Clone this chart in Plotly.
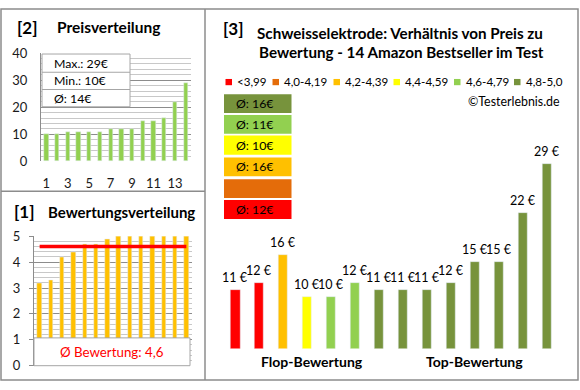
import plotly.graph_objects as go

# ---------------- data ----------------
products = list(range(1, 15))
prices_sorted = [10, 10, 11, 11, 11, 11, 12, 12, 12, 15, 15, 16, 22, 29]
ratings_sorted = [3.2, 3.3, 4.2, 4.4, 4.7, 4.7, 4.9, 5.0, 5.0, 5.0, 5.0, 5.0, 5.0, 5.0]
prices_by_rating = [11, 12, 16, 10, 10, 12, 11, 11, 11, 12, 15, 15, 22, 29]
ratings_by_rating = [3.2, 3.3, 4.2, 4.4, 4.7, 4.7, 4.9, 5.0, 5.0, 5.0, 5.0, 5.0, 5.0, 5.0]
price_ticks = [1, 3, 5, 7, 9, 11, 13]
class_labels = ["<3,99", "4,0-4,19", "4,2-4,39", "4,4-4,59", "4,6-4,79", "4,8-5,0"]
class_bounds = [(0, 3.995), (4.0, 4.195), (4.2, 4.395), (4.4, 4.595), (4.6, 4.795), (4.8, 5.01)]
class_colors = ["#ff0000", "#e46c0a", "#ffc000", "#ffff00", "#92d050", "#77933c"]

W, H = 580, 390
FONT = "Lato"
GRAY = "#8c8c8c"


def px(x):
    return x / W


def py(y):
    return 1 - y / H


def cls_color(r):
    for (lo, hi), c in zip(class_bounds, class_colors):
        if lo <= r < hi:
            return c
    return class_colors[-1]


fig = go.Figure()

# [2] Preisverteilung
fig.add_trace(go.Bar(x=products, y=prices_sorted, marker_color="#92d050", width=0.4,
                     xaxis="x", yaxis="y", showlegend=False))

# [1] Bewertungsverteilung
fig.add_trace(go.Bar(x=products, y=ratings_sorted, marker_color="#ffc000", width=0.4,
                     xaxis="x2", yaxis="y2", showlegend=False))
avg_rating = round(sum(ratings_sorted) / len(ratings_sorted), 1)
fig.add_trace(go.Scatter(x=[products[0], products[-1]], y=[avg_rating, avg_rating], mode="lines",
                         line=dict(color="#ff0000", width=3.5), xaxis="x2", yaxis="y2",
                         showlegend=False))

# [3] price vs rating
fig.add_trace(go.Bar(x=products, y=prices_by_rating,
                     marker_color=[cls_color(r) for r in ratings_by_rating], width=0.38,
                     xaxis="x3", yaxis="y3", showlegend=False))

ann = []
shapes = []


def label(x, y, text, size=13, color="#000", xanchor="center", bold=False):
    ann.append(dict(x=px(x), y=py(y), xref="paper", yref="paper",
                    text=f"<b>{text}</b>" if bold else text, showarrow=False,
                    xanchor=xanchor, yanchor="middle",
                    font=dict(family=FONT, size=size, color=color)))


# bar value labels
for xi, p in zip(products, prices_by_rating):
    ann.append(dict(x=xi, y=p, xref="x3", yref="y3", text=f"{p} €", showarrow=False,
                    xanchor="center", yanchor="bottom", yshift=3,
                    font=dict(family=FONT, size=12.5, color="#000")))

# frames
line_style = dict(color=GRAY, width=1.5)
shapes.append(dict(type="rect", xref="paper", yref="paper", x0=px(1), x1=px(578), y0=py(388), y1=py(1),
                   line=line_style, layer="above"))
shapes.append(dict(type="line", xref="paper", yref="paper", x0=px(205), x1=px(205), y0=py(388), y1=py(1),
                   line=line_style, layer="above"))
shapes.append(dict(type="line", xref="paper", yref="paper", x0=px(1), x1=px(205), y0=py(191), y1=py(191),
                   line=line_style, layer="above"))

# info box top-left
box_line = dict(color="#a6a6a6", width=1)
shapes.append(dict(type="rect", xref="paper", yref="paper", x0=px(42), x1=px(130), y0=py(103), y1=py(48),
                   fillcolor="white", line=box_line, layer="above"))
for yy in (67, 85):
    shapes.append(dict(type="line", xref="paper", yref="paper", x0=px(42), x1=px(130), y0=py(yy), y1=py(yy),
                       line=box_line, layer="above"))
info = [f"Max.: {max(prices_sorted)}€", f"Min.: {min(prices_sorted)}€",
        f"Ø: {round(sum(prices_sorted) / len(prices_sorted))}€"]
for t, yy in zip(info, (57.5, 76, 94)):
    label(52, yy, t, size=12.3, xanchor="left")

# rating box bottom-left
shapes.append(dict(type="rect", xref="paper", yref="paper", x0=px(34), x1=px(190), y0=py(373), y1=py(344),
                   fillcolor="white", line=box_line, layer="above"))
label(112, 358.5, f"Ø Bewertung: {str(avg_rating).replace('.', ',')}", size=13.3, color="#ff0000")

# titles
label(27.5, 20, "[2]", size=17, bold=True)
label(109, 20, "Preisverteilung", size=15.5, bold=True)
label(24, 212, "[1]", size=17, bold=True)
label(121.5, 213, "Bewertungsverteilung", size=15, bold=True)
label(233, 21, "[3]", size=17, bold=True)
label(400, 26, "Schweisselektrode: Verhältnis von Preis zu", size=15.2, bold=True)
label(401, 46, "Bewertung - 14 Amazon Bestseller im Test", size=15.2, bold=True)
label(312, 369, "Flop-Bewertung", size=14, bold=True)
label(474, 369, "Top-Bewertung", size=14, bold=True)
label(562, 98, "©Testerlebnis.de", size=12.4, xanchor="right")

# legend
leg_x = [225.5, 272.5, 333.5, 393.5, 454, 514]
for lab, col, lx in zip(class_labels, class_colors, leg_x):
    shapes.append(dict(type="rect", xref="paper", yref="paper", x0=px(lx), x1=px(lx + 6.5),
                       y0=py(80.5), y1=py(74), fillcolor=col, line=dict(width=0), layer="above"))
    label(lx + 9.5, 76.7, lab, size=11.6, xanchor="left")

# class average boxes (top to bottom: best class first)
box_y = [(90, 109.5), (111.7, 131), (133, 153), (156, 175.5), (178.7, 198), (200.3, 220)]
for i, (y0, y1) in enumerate(box_y):
    ci = len(class_colors) - 1 - i
    lo, hi = class_bounds[ci]
    grp = [p for p, r in zip(prices_by_rating, ratings_by_rating) if lo <= r < hi]
    shapes.append(dict(type="rect", xref="paper", yref="paper", x0=px(224), x1=px(291.5),
                       y0=py(y1), y1=py(y0), fillcolor=class_colors[ci], line=dict(width=0), layer="above"))
    if grp:
        avg = int(sum(grp) / len(grp) + 0.5)
        label(234, (y0 + y1) / 2, f"Ø: {avg}€", size=12.3, xanchor="left")

tick_font = dict(family=FONT, size=13, color="#1a1a1a")
fig.update_layout(
    width=W, height=H, margin=dict(l=0, r=0, t=0, b=0),
    paper_bgcolor="white", plot_bgcolor="white", bargap=0,
    xaxis=dict(domain=[px(41), px(191)], range=[0.5, 14.5], tickvals=price_ticks, showgrid=False,
               tickfont=tick_font, ticks="", zeroline=False, anchor="y", ticklabelstandoff=13),
    yaxis=dict(domain=[py(160), py(47)], range=[0, 40], dtick=10, gridcolor="#8c8c8c", gridwidth=1,
               minor=dict(dtick=2, gridcolor="#c8c8c8", showgrid=True), showline=True, linecolor=GRAY,
               zeroline=False, tickfont=tick_font, anchor="x", ticklabelstandoff=10),
    xaxis2=dict(domain=[px(34), px(192)], range=[0.5, 14.5], showticklabels=False, showgrid=False,
                zeroline=False, anchor="y2"),
    yaxis2=dict(domain=[py(373), py(238)], range=[0, 5], dtick=1, gridcolor="#8c8c8c",
                minor=dict(dtick=0.2, gridcolor="#c8c8c8", showgrid=True), showline=True, linecolor=GRAY,
                ticks="outside", ticklen=4, tickcolor=GRAY, zeroline=False, tickfont=tick_font,
                anchor="x2", ticklabelstandoff=6),
    xaxis3=dict(domain=[px(223.5), px(558.7)], range=[0.5, 14.5], visible=False, anchor="y3"),
    yaxis3=dict(domain=[py(355), py(100)], range=[2.58, 2.58 + 255 / 7.28], visible=False, anchor="x3"),
    annotations=ann, shapes=shapes,
)

fig.write_html("out.html", config={"displayModeBar": False},
               post_script="document.body.style.margin='0';document.body.style.overflow='hidden';")
